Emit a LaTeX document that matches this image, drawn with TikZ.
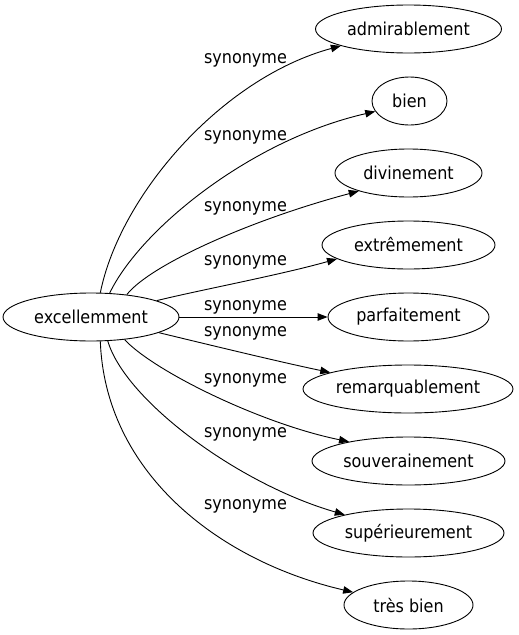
\documentclass[tikz,border=0pt]{standalone}
\usepackage{fontspec}
\setmainfont{DejaVu Sans Condensed}
\usetikzlibrary{shapes.geometric,arrows.meta}
\begin{document}
\begin{tikzpicture}[x=1pt,y=-1pt,
  word/.style={draw=black, line width=0.9pt, ellipse, inner sep=0pt, minimum height=48pt,
    font=\fontsize{17.8}{20}\selectfont},
  rel/.style={font=\fontsize{17.8}{20}\selectfont, inner sep=0pt},
  link/.style={draw=black, line width=0.9pt, -{Triangle[length=10pt,width=7.5pt]}}]
\useasboundingbox (0,0) rectangle (519,635);
\node[word, minimum width=176pt] (ex) at (91,317) {excellemment};
\node[word, minimum width=186pt] (adm) at (408.5,29) {admirablement};
\node[word, minimum width=75pt] (bien) at (409.5,101) {bien};
\node[word, minimum width=147pt] (div) at (408.5,173) {divinement};
\node[word, minimum width=173pt] (ext) at (408.5,245) {extrêmement};
\node[word, minimum width=161pt] (parf) at (408.5,317) {parfaitement};
\node[word, minimum width=210pt] (rem) at (408,389) {remarquablement};
\node[word, minimum width=193pt] (souv) at (408.5,461) {souverainement};
\node[word, minimum width=191pt] (sup) at (408.5,533) {supérieurement};
\node[word, minimum width=129pt] (tres) at (408.5,605) {très bien};
\path[link] (ex.69) .. controls (120,195) and (222,78) .. (adm.194);
\path[link] (ex.52) .. controls (140,230) and (250,140) .. (bien.197);
\path[link] (ex.32) .. controls (150,265) and (250,220) .. (div.200);
\path[link] (ex.14) .. controls (200,290) and (280,275) .. (ext.191);
\path[link] (ex) -- (parf);
\path[link] (ex.-13) .. controls (210,345) and (280,362) .. (rem.168);
\path[link] (ex.-34) .. controls (155,372) and (262,424) .. (souv.162);
\path[link] (ex.-55) .. controls (125,400) and (238,484) .. (sup.164);
\path[link] (ex.-69) .. controls (105,470) and (215,560) .. (tres.167);
\node[rel] (l1) at (245.5,60) {synonyme};
\node[rel] (l2) at (245.5,137) {synonyme};
\node[rel] (l3) at (245.5,208) {synonyme};
\node[rel] (l4) at (245.5,262) {synonyme};
\node[rel] (l5) at (245.5,307) {synonyme};
\node[rel] (l6) at (245.5,333) {synonyme};
\node[rel] (l7) at (245.5,380) {synonyme};
\node[rel] (l8) at (245.5,434) {synonyme};
\node[rel] (l9) at (245.5,506) {synonyme};
\end{tikzpicture}
\end{document}
